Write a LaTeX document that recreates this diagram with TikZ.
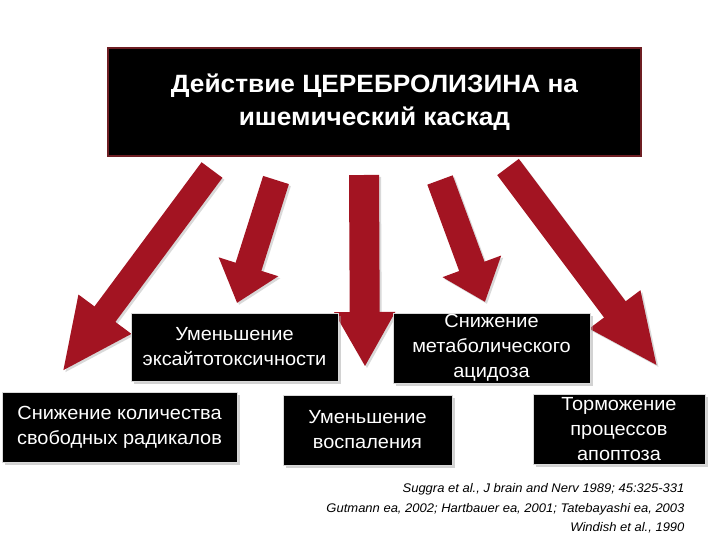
\documentclass[tikz,border=0pt]{standalone}
\usepackage{fontspec}
\setmainfont{Liberation Sans}
\newfontfamily\widesans[FakeStretch=1.05]{Liberation Sans}
\newfontfamily\narrowsans[FakeStretch=1.04]{Liberation Sans}
\usetikzlibrary{arrows.meta,shadows}
\definecolor{arrowred}{RGB}{163,20,34}
\definecolor{titleframe}{RGB}{110,30,35}

\begin{document}
\begin{tikzpicture}[
    x=1pt, y=-1pt,
    headbox/.style={draw=titleframe, line width=1.5pt, fill=black, text=white,
      minimum width=533pt, minimum height=108pt, align=center,
      font=\widesans\fontsize{25}{33}\selectfont\bfseries},
    effect/.style={draw=black!15, line width=0.8pt, fill=black, text=white,
      inner sep=0pt, align=center, font=\widesans\fontsize{19}{25}\selectfont,
      drop shadow={shadow xshift=2.5pt, shadow yshift=-2.5pt, fill=black!35}},
    push/.style args={#1/#2/#3}{draw=arrowred, line width=#1pt,
      -{Triangle[width=#2pt, length=#3pt]}},
    pushshade/.style={draw=black!15, transform canvas={shift={(2pt,-2pt)}}},
    source/.style={anchor=east, font=\narrowsans\fontsize{12.5}{14}\selectfont\itshape}
  ]
  \useasboundingbox (0,0) rectangle (720,540);

  % title
  \node[headbox] (cascade) at (374.5,102)
    {Действие ЦЕРЕБРОЛИЗИНА на\\ишемический каскад};

  % arrow ends
  \coordinate (t1) at (212,170);  \coordinate (h1) at (62,372);
  \coordinate (t2) at (276,180);  \coordinate (h2) at (237,303);
  \coordinate (t3) at (364,175);  \coordinate (h3) at (365,367);
  \coordinate (t4) at (440,180);  \coordinate (h4) at (485,302);
  \coordinate (t5) at (508,167);  \coordinate (h5) at (658,367);

  % arrows
  \draw[push=26/60/72, pushshade] (t1) -- (h1);
  \draw[push=27/60/38, pushshade] (t2) -- (h2);
  \draw[push=30/57/55, pushshade] (t3) -- (h3);
  \draw[push=27/60/38, pushshade] (t4) -- (h4);
  \draw[push=27/58/72, pushshade] (t5) -- (h5);
  \draw[push=26/60/72] (t1) -- (h1);
  \draw[push=27/60/38] (t2) -- (h2);
  \draw[push=30/57/55] (t3) -- (h3);
  \draw[push=27/60/38] (t4) -- (h4);
  \draw[push=27/58/72] (t5) -- (h5);

  % effects
  \node[effect, minimum width=207pt, minimum height=68pt] (excito) at (234.5,347)
    {Уменьшение\\эксайтотоксичности};
  \node[effect, minimum width=197pt, minimum height=70pt] (acidosis) at (491.5,348)
    {Снижение\\метаболического\\ацидоза};
  \node[effect, minimum width=235pt, minimum height=70pt] (radicals) at (119.5,427)
    {Снижение количества\\свободных радикалов};
  \node[effect, minimum width=169pt, minimum height=70pt] (inflam) at (367.5,430)
    {Уменьшение\\воспаления};
  \node[effect, minimum width=172pt, minimum height=70pt] (apopt) at (619,429)
    {Торможение\\процессов\\апоптоза};

  % references
  \node[source] (cite1) at (688,489) {Suggra et al., J brain and Nerv 1989; 45:325-331};
  \node[source] (cite2) at (688,509) {Gutmann ea, 2002; Hartbauer ea, 2001; Tatebayashi ea, 2003};
  \node[source] (cite3) at (688,528) {Windish et al., 1990};
\end{tikzpicture}
\end{document}
